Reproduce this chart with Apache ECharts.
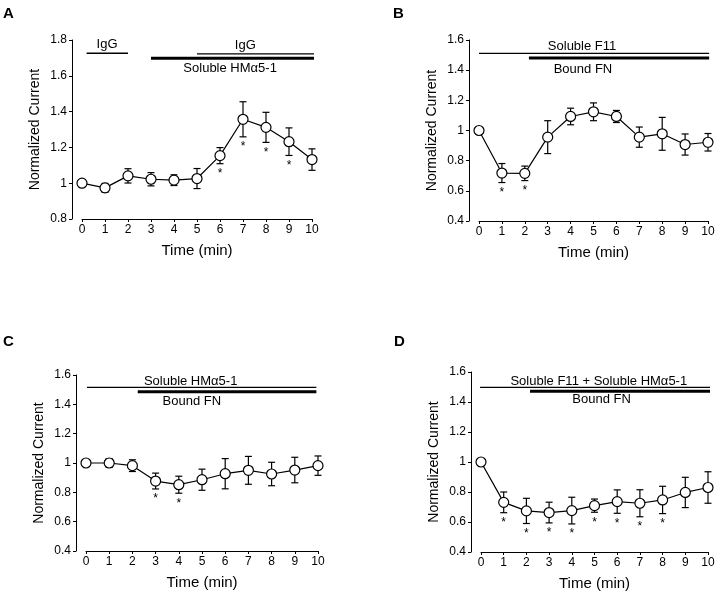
<!DOCTYPE html>
<html>
<head>
<meta charset="utf-8">
<script src="https://cdn.jsdelivr.net/npm/echarts@6/dist/echarts.min.js"></script>
<style>
  html, body { margin: 0; padding: 0; background: #fff; }
  #chart { width: 720px; height: 592px; }
</style>
</head>
<body>
<div id="chart"></div>
<script>
// time points (min)
var times = [0, 1, 2, 3, 4, 5, 6, 7, 8, 9, 10];

// A: IgG / soluble HMa5-1
var meanA  = [1.0, 0.974, 1.041, 1.022, 1.017, 1.026, 1.154, 1.357, 1.312, 1.232, 1.132];
var errA   = [0, 0.025, 0.04, 0.037, 0.03, 0.056, 0.045, 0.098, 0.084, 0.077, 0.06];
var starsA = [6, 7, 8, 9];

// B: soluble F11, bound FN
var meanB  = [1.0, 0.718, 0.716, 0.956, 1.093, 1.124, 1.093, 0.956, 0.978, 0.907, 0.922];
var errB   = [0, 0.063, 0.048, 0.109, 0.055, 0.059, 0.04, 0.067, 0.109, 0.07, 0.058];
var starsB = [1, 2];

// C: soluble HMa5-1, bound FN
var meanC  = [1.0, 1.0, 0.982, 0.877, 0.852, 0.886, 0.927, 0.95, 0.925, 0.952, 0.982];
var errC   = [0, 0.03, 0.04, 0.054, 0.058, 0.072, 0.103, 0.095, 0.08, 0.087, 0.066];
var starsC = [3, 4];

// D: soluble F11 + soluble HMa5-1, bound FN
var meanD  = [1.0, 0.731, 0.674, 0.663, 0.676, 0.709, 0.736, 0.725, 0.747, 0.797, 0.83];
var errD   = [0, 0.069, 0.084, 0.069, 0.089, 0.044, 0.078, 0.09, 0.091, 0.101, 0.105];
var starsD = [1, 2, 3, 4, 5, 6, 7, 8];

// treatment bars: [start, end, level]
var thinA  = [[0.2, 2.0, 1.726], [5.0, 10.4, 1.722]];
var thickA = [[3.0, 10.4, 1.698]];
var thinB  = [[0, 10.05, 1.511]];
var thickB = [[2.18, 10.05, 1.48]];
var thinC  = [[0.04, 9.93, 1.516]];
var thickC = [[2.23, 9.93, 1.486]];
var thinD  = [[-0.04, 10.12, 1.497]];
var thickD = [[2.16, 10.12, 1.472]];

// treatment labels and where they sit (data units)
var textA = ['IgG', 'IgG', 'Soluble HM\u03b15-1'];
var textPosA = [[1.09, 1.776], [7.1, 1.772], [6.44, 1.642]];
var textB = ['Soluble F11', 'Bound FN'];
var textPosB = [[4.5, 1.556], [4.54, 1.404]];
var textC = ['Soluble HM\u03b15-1', 'Bound FN'];
var textPosC = [[4.51, 1.559], [4.56, 1.422]];
var textD = ['Soluble F11 + Soluble HM\u03b15-1', 'Bound FN'];
var textPosD = [[5.19, 1.538], [5.31, 1.417]];

var FONT = 'Liberation Sans, Arial, Helvetica, sans-serif';

var grids = [], xAxes = [], yAxes = [], series = [];

function errRender(params, api) {
  var x = api.value(0), lo = api.value(1), hi = api.value(2);
  var a = api.coord([x, hi]), b = api.coord([x, lo]);
  var w = 3.5;
  var st = { stroke: '#000', lineWidth: 1.2 };
  return { type: 'group', children: [
    { type: 'line', shape: { x1: a[0], y1: a[1], x2: b[0], y2: b[1] }, style: st },
    { type: 'line', shape: { x1: a[0] - w, y1: a[1], x2: a[0] + w, y2: a[1] }, style: st },
    { type: 'line', shape: { x1: b[0] - w, y1: b[1], x2: b[0] + w, y2: b[1] }, style: st }
  ]};
}

function starRender(params, api) {
  var p = api.coord([api.value(0), api.value(1)]);
  return { type: 'text', x: p[0], y: p[1] + 4,
    style: { text: '*', align: 'center', verticalAlign: 'top', font: '12px ' + FONT, fill: '#000' } };
}

function addPanel(p) {
  var gi = grids.length;
  grids.push({ left: p.left, top: p.top, width: p.width, height: p.height });
  xAxes.push({
    gridIndex: gi, type: 'value', min: 0, max: 10, interval: 1,
    name: 'Time (min)', nameLocation: 'middle', nameGap: p.xGap,
    nameTextStyle: { color: '#000', fontSize: 15, fontFamily: FONT },
    axisLine: { onZero: false, lineStyle: { color: '#000', width: 1 } },
    axisTick: { length: 3, lineStyle: { color: '#000' } },
    axisLabel: { color: '#000', fontSize: 12, margin: 5, fontFamily: FONT },
    splitLine: { show: false }
  });
  yAxes.push({
    gridIndex: gi, type: 'value', min: p.yMin, max: p.yMax, interval: 0.2, offset: 10,
    name: 'Normalized Current', nameLocation: 'middle', nameGap: 30,
    nameTextStyle: { color: '#000', fontSize: 14, fontFamily: FONT },
    axisLine: { show: true, onZero: false, lineStyle: { color: '#000', width: 1 } },
    axisTick: { show: true, length: 3, lineStyle: { color: '#000' } },
    axisLabel: { color: '#000', fontSize: 12, margin: 5, fontFamily: FONT },
    splitLine: { show: false }
  });

  var errData = [];
  times.forEach(function (t, i) {
    if (p.err[i] > 0) errData.push([t, p.mean[i] - p.err[i], p.mean[i] + p.err[i]]);
  });
  series.push({
    type: 'custom', xAxisIndex: gi, yAxisIndex: gi, renderItem: errRender,
    data: errData, encode: { x: 0, y: [1, 2] }, z: 2, silent: true
  });
  series.push({
    type: 'line', xAxisIndex: gi, yAxisIndex: gi,
    data: times.map(function (t, i) { return [t, p.mean[i]]; }),
    symbol: 'circle', symbolSize: 10, showAllSymbol: true,
    itemStyle: { color: '#fff', borderColor: '#000', borderWidth: 1.2 },
    lineStyle: { color: '#000', width: 1.2 }, z: 3, silent: true
  });
  series.push({
    type: 'custom', xAxisIndex: gi, yAxisIndex: gi, renderItem: starRender,
    data: p.stars.map(function (t) { return [t, p.mean[t] - p.err[t]]; }),
    z: 4, silent: true
  });
  p.thin.forEach(function (b) {
    series.push({ type: 'line', xAxisIndex: gi, yAxisIndex: gi, clip: false, silent: true,
      data: [[b[0], b[2]], [b[1], b[2]]], symbol: 'none',
      lineStyle: { color: '#000', width: 1.3 } });
  });
  p.thick.forEach(function (b) {
    series.push({ type: 'line', xAxisIndex: gi, yAxisIndex: gi, clip: false, silent: true,
      data: [[b[0], b[2]], [b[1], b[2]]], symbol: 'none',
      lineStyle: { color: '#000', width: 3 } });
  });
  series.push({
    type: 'custom', xAxisIndex: gi, yAxisIndex: gi, silent: true, clip: false,
    data: p.textPos,
    renderItem: function (params, api) {
      var pt = api.coord([api.value(0), api.value(1)]);
      return { type: 'text', x: pt[0], y: pt[1],
        style: { text: p.text[params.dataIndex], align: 'center', verticalAlign: 'middle',
          font: '13px ' + FONT, fill: '#000' } };
    }
  });
}

addPanel({ left: 82, top: 40, width: 230, height: 179, yMin: 0.8, yMax: 1.8, xGap: 24,
  mean: meanA, err: errA, stars: starsA, thin: thinA, thick: thickA, text: textA, textPos: textPosA });
addPanel({ left: 479, top: 40, width: 229, height: 181, yMin: 0.4, yMax: 1.6, xGap: 24,
  mean: meanB, err: errB, stars: starsB, thin: thinB, thick: thickB, text: textB, textPos: textPosB });
addPanel({ left: 86, top: 375, width: 232, height: 176, yMin: 0.4, yMax: 1.6, xGap: 24,
  mean: meanC, err: errC, stars: starsC, thin: thinC, thick: thickC, text: textC, textPos: textPosC });
addPanel({ left: 481, top: 372, width: 227, height: 181, yMin: 0.4, yMax: 1.6, xGap: 24,
  mean: meanD, err: errD, stars: starsD, thin: thinD, thick: thickD, text: textD, textPos: textPosD });

var letterFont = 'bold 15px ' + FONT;
var chart = echarts.init(document.getElementById('chart'), null, { renderer: 'canvas' });
chart.setOption({
  backgroundColor: '#fff',
  animation: false,
  grid: grids,
  xAxis: xAxes,
  yAxis: yAxes,
  series: series,
  graphic: [
    { type: 'text', left: 3, top: 6, style: { text: 'A', font: letterFont, fill: '#000' } },
    { type: 'text', left: 393, top: 6, style: { text: 'B', font: letterFont, fill: '#000' } },
    { type: 'text', left: 3, top: 334, style: { text: 'C', font: letterFont, fill: '#000' } },
    { type: 'text', left: 394, top: 334, style: { text: 'D', font: letterFont, fill: '#000' } }
  ]
});
</script>
</body>
</html>
